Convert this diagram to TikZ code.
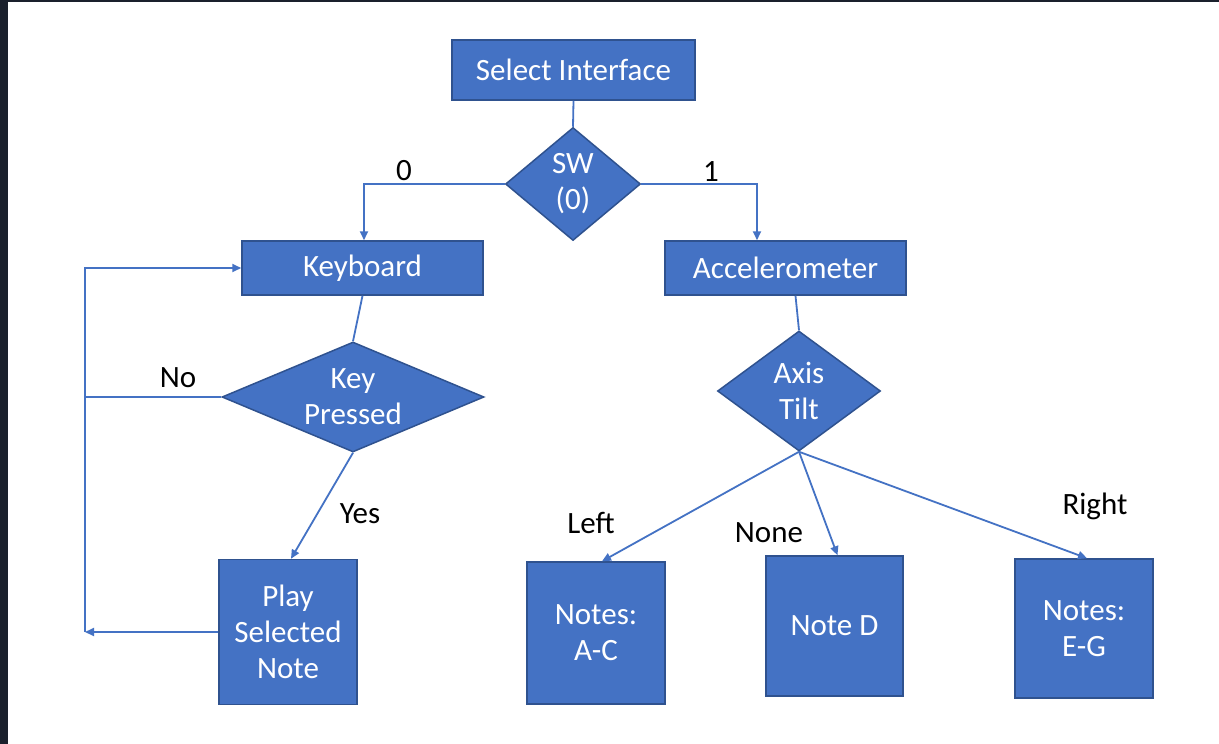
\documentclass[tikz,border=0pt]{standalone}
\usepackage{fontspec}
\setmainfont{Carlito}
\usetikzlibrary{shapes.geometric,arrows.meta}
\definecolor{boxblue}{HTML}{4472C4}
\definecolor{boxedge}{HTML}{2F528F}
\definecolor{darkbar}{HTML}{1A202C}
\begin{document}
\begin{tikzpicture}[x=1pt,y=-1pt,
  every node/.style={font=\fontsize{31}{36}\selectfont},
  box/.style={rectangle,fill=boxblue,draw=boxedge,line width=1.5pt,text=white,inner sep=0pt,align=center},
  dia/.style={diamond,fill=boxblue,draw=boxedge,line width=1.5pt,text=white,inner sep=0pt,align=center},
  conn/.style={draw=boxblue,line width=1.8pt},
  arr/.style={conn,-{Triangle[length=9pt,width=8pt]}},
  lab/.style={text=black,anchor=base,inner sep=0pt}]
\useasboundingbox (0,0) rectangle (1219,744);
\fill[darkbar] (0,0) rectangle (1219,744);
\fill[white] (8,2) rectangle (1219,744);
% nodes
\node[box,minimum width=243pt,minimum height=60pt] (sel) at (573.5,70) {Select Interface};
\node[dia,minimum width=135pt,minimum height=113pt,aspect=1.19] (sw) at (573,184) {SW\\(0)};
\node[box,minimum width=241pt,minimum height=54pt] (kb) at (362.5,268) {Keyboard};
\node[box,minimum width=241pt,minimum height=54pt] (acc) at (785.5,268) {Accelerometer};
\node[dia,minimum width=262pt,minimum height=110pt,aspect=2.38] (kp) at (353,397) {Key\\Pressed};
\node[dia,minimum width=163pt,minimum height=120pt,aspect=1.36] (at) at (799,391) {Axis\\Tilt};
\node[box,minimum width=138pt,minimum height=145pt] (play) at (288,632) {Play\\Selected\\Note};
\node[box,minimum width=138pt,minimum height=142pt] (ac) at (596,633) {Notes:\\A-C};
\node[box,minimum width=137pt,minimum height=140pt] (nd) at (834.5,626) {Note D};
\node[box,minimum width=138pt,minimum height=139pt] (eg) at (1084,628.5) {Notes:\\E-G};
\coordinate (c1) at (85,268);
\coordinate (c2) at (85,632);
\coordinate (l0) at (364,184);
\coordinate (r1) at (757,184);
% connectors
\draw[conn] (sel.south) -- (sw.north);
\draw[arr] (sw.west) -- (l0) -- (l0 |- kb.north);
\draw[arr] (sw.east) -- (r1) -- (r1 |- acc.north);
\draw[conn] (kb.south) -- (kp.north);
\draw[conn] ([xshift=10pt]acc.south) -- (at.north);
\draw[conn] (kp.west) -- (kp.west -| c1);
\draw[arr] (c2) -- (c1) -- (kb.west);
\draw[arr] (play.west) -- (c2);
\draw[arr] (kp.south) -- ([xshift=3pt]play.north);
\draw[arr] (at.south) -- ([xshift=6pt]ac.north);
\draw[arr] (at.south) -- ([xshift=3pt]nd.north);
\draw[arr] (at.south) -- ([xshift=3pt]eg.north);
% labels
\node[lab] (t0) at (404,180) {0};
\node[lab] (t1) at (711,181) {1};
\node[lab] (tno) at (178,387) {No};
\node[lab] (tyes) at (360,523) {Yes};
\node[lab] (tleft) at (591,533) {Left};
\node[lab] (tnone) at (769,542) {None};
\node[lab] (tright) at (1095,514) {Right};
\end{tikzpicture}
\end{document}
